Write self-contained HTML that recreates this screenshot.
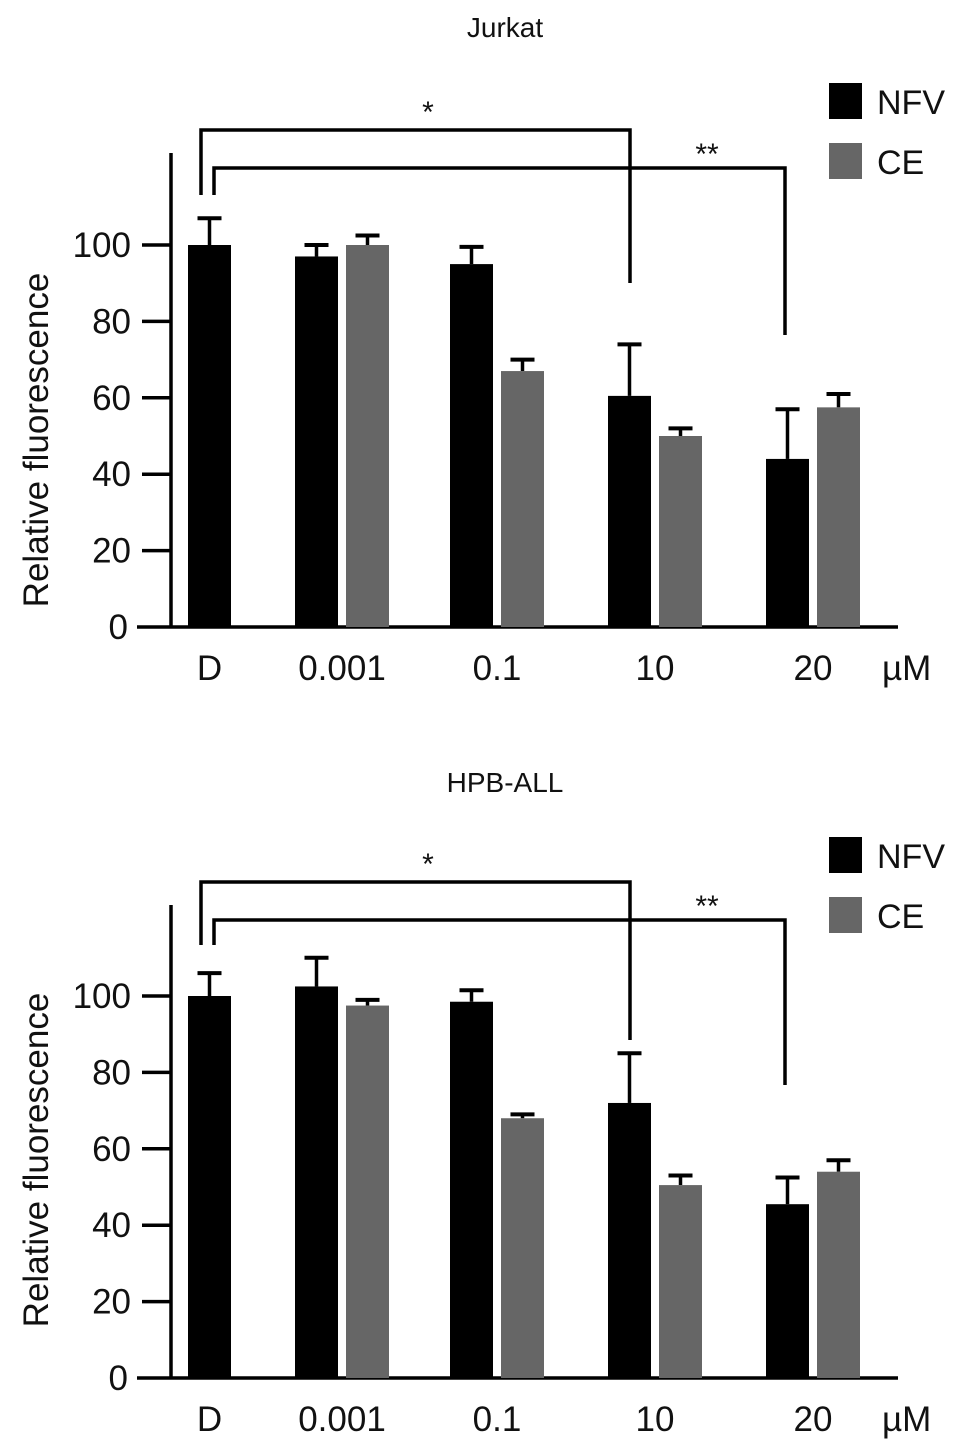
<!DOCTYPE html>
<html><head><meta charset="utf-8"><style>
html,body{margin:0;padding:0;background:#fff}
svg{display:block}
text{font-family:"Liberation Sans",Arial,sans-serif;fill:#111}
</style></head><body>
<svg id="fig" width="969" height="1442" viewBox="0 0 969 1442" xmlns="http://www.w3.org/2000/svg"></svg>
<script>
const categories = ["D","0.001","0.1","10","20"];
const yTicks = [0,20,40,60,80,100];
const jurkatNFV = [100,97,95,60.5,44];
const jurkatNFVErr = [107,100,99.5,74,57];
const jurkatCE = [null,100,67,50,57.5];
const jurkatCEErr = [null,102.5,70,52,61];
const hpbNFV = [100,102.5,98.5,72,45.5];
const hpbNFVErr = [106,110,101.5,85,52.5];
const hpbCE = [null,97.5,68,50.5,54];
const hpbCEErr = [null,99,69,53,57];

const NS="http://www.w3.org/2000/svg";
const svg=document.getElementById('fig');
function mk(tag,attrs,parent){const e=document.createElementNS(NS,tag);for(const k in attrs)e.setAttribute(k,attrs[k]);(parent||svg).appendChild(e);return e;}

const groupX=[188,295,450,608,766];
const barW=43, gap=8;

function panel(name,top0,y0,title,titleY,nfv,nfvE,ce,ceE,br,ylabY){
  const g=mk('g',{});
  
  
  const y=v=>y0-v*3.82;
  const t=mk('text',{x:505,y:titleY,'text-anchor':'middle','font-size':28},g);t.textContent=title;
  
  const ya=mk('line',{x1:171,y1:top0,x2:171,y2:y0,stroke:'#000','stroke-width':3.5},g);
  
  const xa=mk('line',{x1:137,y1:y0,x2:898,y2:y0,stroke:'#000','stroke-width':3.5},g);
  
  yTicks.forEach(v=>{
    if(v>0){const tk=mk('line',{x1:142,y1:y(v),x2:171,y2:y(v),stroke:'#000','stroke-width':3.5},g);
    }
    const l=mk('text',{x:v===0?128:131,y:y(v)+12,'text-anchor':'end','font-size':35},g);l.textContent=v;
    
  });
  const yl=mk('text',{transform:`translate(48,${ylabY}) rotate(-90)`,'text-anchor':'middle','font-size':35},g);
  yl.textContent='Relative fluorescence';
  
  categories.forEach((c,i)=>{
    const cx=i===0?groupX[i]+barW/2:groupX[i]+barW+gap/2;
    const l=mk('text',{x:cx,y:y0+53,'text-anchor':'middle','font-size':35},g);l.textContent=c;
    
    const drawBar=(x,v,e,col,s)=>{
      const el=mk('line',{x1:x+barW/2,y1:y(e),x2:x+barW/2,y2:y(v),stroke:'#000','stroke-width':3.5},g);
      
      const cap=mk('line',{x1:x+barW/2-12,y1:y(e),x2:x+barW/2+12,y2:y(e),stroke:'#000','stroke-width':4},g);
      
      const r=mk('rect',{x:x,y:y(v),width:barW,height:y0-y(v),fill:col},g);
      
    };
    drawBar(groupX[i],nfv[i],nfvE[i],'#000','nfv');
    if(ce[i]!=null) drawBar(groupX[i]+barW+gap,ce[i],ceE[i],'#666','ce');
  });
  const mu=mk('text',{x:882,y:y0+53,'font-size':35},g);mu.textContent='µM';
  
  const b1=mk('polyline',{points:`201,${br.l} 201,${br.y1} 630,${br.y1} 630,${br.r1}`,fill:'none',stroke:'#000','stroke-width':3.5},g);
  
  const b2=mk('polyline',{points:`214,${br.l} 214,${br.y2} 785,${br.y2} 785,${br.r2}`,fill:'none',stroke:'#000','stroke-width':3.5},g);
  
  const s1=mk('text',{x:428,y:br.y1-8,'text-anchor':'middle','font-size':30},g);s1.textContent='*';
  
  const s2=mk('text',{x:707,y:br.y2-4,'text-anchor':'middle','font-size':30},g);s2.textContent='**';
  
  const lg=[['NFV','#000',br.lg],['CE','#666',br.lg+60]];
  lg.forEach(([n,col,ly])=>{
    const r=mk('rect',{x:829,y:ly,width:33,height:36,fill:col},g);
    
    const tx=mk('text',{x:877,y:ly+31,'font-size':34},g);tx.textContent=n;
    
  });
}
panel('jurkat',153,627,'Jurkat',37,jurkatNFV,jurkatNFVErr,jurkatCE,jurkatCEErr,{y1:130,y2:168,l:195,r1:283,r2:335,lg:83},440);
panel('hpb-all',905,1378,'HPB-ALL',792,hpbNFV,hpbNFVErr,hpbCE,hpbCEErr,{y1:882,y2:920,l:945,r1:1040,r2:1085,lg:837},1160);
</script>
</body></html>
